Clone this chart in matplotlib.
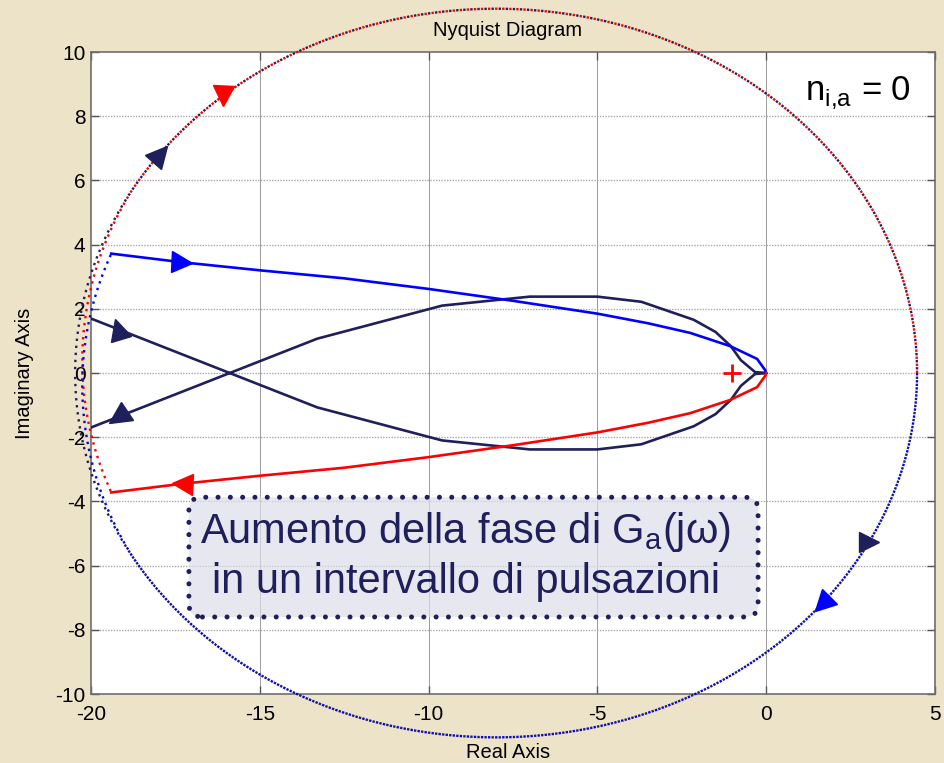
import numpy as np
import matplotlib.pyplot as plt
from matplotlib.markers import MarkerStyle
from matplotlib.transforms import Affine2D
from matplotlib.patches import FancyBboxPatch

plt.rcParams['axes.unicode_minus'] = False
plt.rcParams['font.family'] = ['Liberation Sans', 'DejaVu Sans']

# Nyquist branches
blue_re = [-19.4, -17.3, -15.0, -12.5, -10.0, -7.5, -5.0, -3.5, -2.25, -1.07, -0.27, -0.03, 0.0]
blue_im = [3.72, 3.45, 3.2, 2.95, 2.62, 2.25, 1.85, 1.55, 1.25, 0.84, 0.44, 0.09, 0.0]
red_re = blue_re
red_im = [-v for v in blue_im]

# navy curve: lower half first (comes in from the left), then mirrored upper half
navy_low_re = [-21.0, -13.3, -9.6, -7.0, -5.0, -3.7, -2.15, -1.5, -1.05, -0.75, -0.33, 0.0]
navy_low_im = [2.11, -1.07, -2.1, -2.38, -2.38, -2.22, -1.66, -1.28, -0.84, -0.4, -0.03, 0.0]

# closure at infinity (drawn as a big ellipse)
arc_cx = -8.0
arc_a = 12.47
arc_b = 11.35

xticks = [-20, -15, -10, -5, 0, 5]
yticks = [-10, -8, -6, -4, -2, 0, 2, 4, 6, 8, 10]

navy = '#1F1F5C'
blue = '#0000FF'
red = '#FF0000'
bg = '#EDE3C8'


def arc(t0, t1, tk, rk):
    t = np.linspace(t0, t1, 500)
    r = np.interp(t, tk, rk)
    tr = np.radians(t)
    return arc_cx + arc_a * r * np.cos(tr), arc_b * r * np.sin(tr)


def arrow(ax, x, y, ang, color, ms=15):
    m = MarkerStyle('^', transform=Affine2D().rotate_deg(ang - 90))
    ax.plot([x], [y], marker=m, ms=ms, color=color, mec=color, ls='none',
            zorder=6, clip_on=False)


fig = plt.figure(figsize=(9.45, 7.63), dpi=100, facecolor=bg)
ax = fig.add_axes([0.0963, 0.0904, 0.8931, 0.8414])
ax.set_facecolor('white')

# grid
for gx in xticks[1:-1]:
    ax.axvline(gx, color='#8c8c8c', lw=0.6, zorder=1)
for gy in yticks[1:-1]:
    ax.axhline(gy, color='#a8a8a8', lw=1.0, ls=(0, (1, 1)), zorder=1)

# dotted closures (drawn outside the axes too)
dot = 1.7
rx, ry = arc(0, 199.7, [0, 150, 199.7], [1, 1, 0.971])
bx, by = arc(360, 160.3, [160.3, 210, 360], [0.971, 1, 1])
ntx, nty = arc(0, 180, [0, 180], [1, 1])
nbx, nby = arc(360, 180, [180, 360], [1, 1])
ax.plot(ntx, nty, color=navy, lw=dot, ls=(1.5, (1, 2)), clip_on=False, zorder=3)
ax.plot(nbx, nby, color=navy, lw=dot, ls=(1.5, (1, 2)), clip_on=False, zorder=3)
ax.plot(rx, ry, color=red, lw=dot, ls=(0, (1, 2)), clip_on=False, zorder=3)
ax.plot(bx, by, color=blue, lw=dot, ls=(0, (1, 2)), clip_on=False, zorder=3)

# solid branches
navy_re = navy_low_re + navy_low_re[::-1][1:]
navy_im = navy_low_im + [-v for v in navy_low_im[::-1][1:]]
ax.plot(navy_re, navy_im, color=navy, lw=1.9, zorder=4)
ax.plot(blue_re, blue_im, color=blue, lw=1.9, zorder=4)
ax.plot(red_re, red_im, color=red, lw=1.9, zorder=4)

# arrow heads
arrow(ax, -17.3, np.interp(-17.3, blue_re, blue_im), -3, blue)
arrow(ax, -17.3, np.interp(-17.3, red_re, red_im), 177, red)
arrow(ax, -19.2, np.interp(-19.2, navy_low_re, navy_low_im), 105, navy)
arrow(ax, -19.2, -np.interp(-19.2, navy_low_re, navy_low_im), 215, navy)
for t, ang, c in [(130.5, 268, red), (143, 50, navy), (332.4, 0, navy), (320.7, 225, blue)]:
    tr = np.radians(t)
    arrow(ax, arc_cx + arc_a * np.cos(tr), arc_b * np.sin(tr), ang, c)

# critical point
ax.plot([-1], [0], marker='+', ms=13, mew=2, color=red, zorder=5)

# annotation box
box = FancyBboxPatch((-17.1, -7.6), 16.86, 3.73,
                     boxstyle='round,pad=0,rounding_size=0.4',
                     fc=(0.87, 0.87, 0.915, 0.7), ec=navy, lw=3.6,
                     ls=(0, (0.01, 2.45)), capstyle='round', zorder=5)
ax.add_patch(box)
ax.text(-8.9, -5.3, 'Aumento della fase di G$_\\mathregular{a}$(jω)',
        ha='center', va='baseline', fontsize=30, color=navy, zorder=6)
ax.text(-8.9, -6.85, 'in un intervallo di pulsazioni',
        ha='center', va='baseline', fontsize=30, color=navy, zorder=6)

ax.text(4.3, 8.5, 'n$_\\mathregular{i{,}a}$ = 0', ha='right', va='baseline',
        fontsize=25, color='black', zorder=6)

ax.set_xlim(-20, 5)
ax.set_ylim(-10, 10)
ax.set_xticks(xticks)
ax.set_yticks(yticks)
ax.tick_params(direction='in', length=6, width=1, color='#555555',
               top=True, right=True, labelsize=15)
ax.tick_params(axis='x', pad=8)
ax.tick_params(axis='y', pad=4)
for s in ax.spines.values():
    s.set_color('#6e6e6e')
    s.set_linewidth(1.2)

fig.text(0.5376, 1 - 30 / 763, 'Nyquist Diagram', ha='center', va='center', fontsize=14.5)
fig.text(0.5376, 1 - 752 / 763, 'Real Axis', ha='center', va='center', fontsize=14.5)
fig.text(25 / 945, 1 - 373 / 763, 'Imaginary Axis', ha='center', va='center',
         rotation=90, fontsize=14.5)

fig.savefig('out.png', dpi=100, facecolor=bg)
